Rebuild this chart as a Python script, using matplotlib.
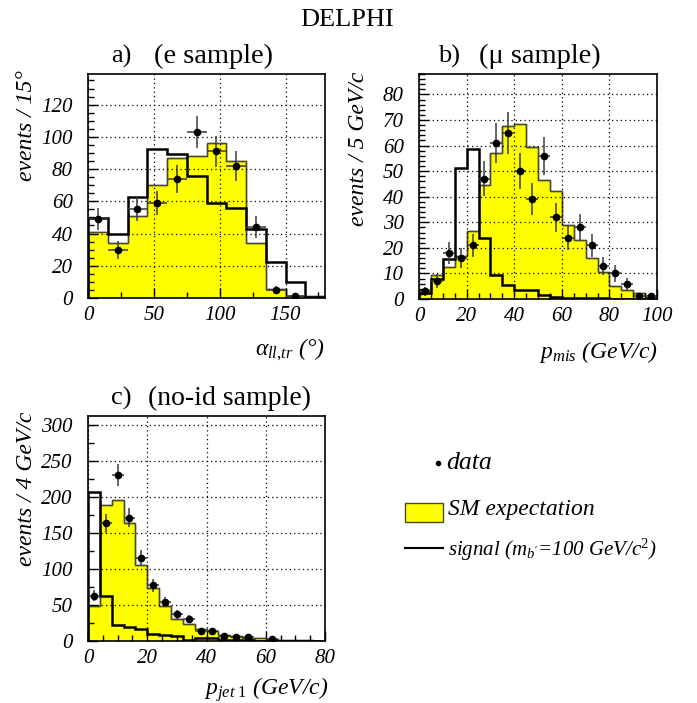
"""DELPHI b' search: e / mu / no-id sample distributions vs SM expectation."""
import numpy as np
import matplotlib
matplotlib.use("Agg")
import matplotlib.pyplot as plt
from matplotlib.ticker import MultipleLocator
from matplotlib.patches import Rectangle

plt.rcParams.update({
    "font.family": "Liberation Serif",
    "mathtext.fontset": "custom",
    "mathtext.rm": "Liberation Serif",
    "mathtext.it": "Liberation Serif:italic",
    "mathtext.bf": "Liberation Serif:bold",
})

W, H = 697, 703
YELLOW = "#ffff00"
SM_EDGE = "#4a4a2a"
nan = np.nan

# a) e sample, alpha_ll,tr in 15 deg bins
a_edges = np.arange(0, 181, 15)
a_sm = [41, 34, 51, 70, 87, 88, 96, 85, 34, 5.6, 1.4, 1.0]
a_sig = [49.5, 39.6, 62.5, 92.6, 89.3, 75.9, 59.2, 56.1, 42.9, 22.5, 9.7, 0.6]
a_data = [49, 30, 55, 59, 74, 103, 91, 82, 44, 5, 1, nan]
a_err = [7.0, 5.5, 7.4, 7.7, 8.6, 10.1, 9.5, 9.1, 6.6, 2.2, 1.0, nan]

# b) mu sample, p_mis in 5 GeV/c bins
b_edges = np.arange(0, 101, 5)
b_sm = [3.4, 9.2, 12.6, 16.9, 26.6, 44.5, 57.1, 67.5, 68.6, 59.6,
        46.6, 42.1, 29.1, 22.9, 16.2, 10.5, 4.9, 3.6, 2.2, 0.8]
b_sig = [2.3, 7.8, 15.8, 51.4, 58.6, 23.8, 9.4, 5.6, 3.5, 3.4,
         1.6, 0.6, 0.3, 0.3, 0.2, 0.2, 0.1, 0.1, 0.1, 0.1]
b_data = [3, 7, 18, 16, 21, 47, 61, 65, 50, 39, 56, 32, 24, 28, 21, 13, 10, 6, 1, 1]
b_err = [1.7, 2.6, 4.2, 4.0, 4.6, 6.9, 7.8, 8.1, 7.1, 6.2,
         7.5, 5.7, 4.9, 5.3, 4.6, 3.6, 3.2, 2.4, 1.0, 1.0]

# c) no-id sample, p_jet1 in 4 GeV/c bins
c_edges = np.arange(0, 81, 4)
c_sm = [48.6, 188, 195, 164, 106, 73, 48, 30, 23, 16.7,
        13.4, 8.8, 6.5, 4.2, 3.7, 2.3, 1.4, 0.9, 0.9, 0.5]
c_sig = [207, 63, 22, 19.4, 16.7, 9.3, 8.8, 6.5, 0.9, 3.7,
         3.7, 1.0, 1.0, 0.8, 0.6, 0.5, 0.4, 0.3, 0.3, 0.3]
c_data = [63, 163, 230, 171, 115, 77, 54, 37, 30, 14, 14, 7, 6, 6, nan, 3,
          nan, nan, nan, nan]
c_err = [7.9, 12.8, 15.2, 13.1, 10.7, 8.8, 7.3, 6.1, 5.5, 3.7, 3.7, 2.6, 2.4, 2.4, nan, 1.7,
         nan, nan, nan, nan]


def px_box(x0, y0, x1, y1):
    return [x0 / W, 1 - y1 / H, (x1 - x0) / W, (y1 - y0) / H]


def panel(ax, edges, sm, sig, data, err, ymax, xmaj, xmin, ymaj, ymin):
    edges = np.asarray(edges, dtype=float)
    ax.stairs(sm, edges, fill=True, facecolor=YELLOW, edgecolor=SM_EDGE,
              linewidth=1.0, baseline=0, zorder=2)
    ax.stairs(sm, edges, fill=False, color=SM_EDGE, linewidth=1.0, baseline=0, zorder=2)
    ax.stairs(sig, edges, fill=False, color="black", linewidth=1.8, baseline=0, zorder=3)
    centers = 0.5 * (edges[:-1] + edges[1:])
    half = 0.5 * np.diff(edges)
    ax.errorbar(centers, data, yerr=err, xerr=half, fmt="o", ms=4.5, color="black",
                ecolor="#3a3a3a", elinewidth=1.1, capsize=0, zorder=4)
    ax.set_xlim(edges[0], edges[-1])
    ax.set_ylim(0, ymax)
    ax.xaxis.set_major_locator(MultipleLocator(xmaj))
    ax.xaxis.set_minor_locator(MultipleLocator(xmin))
    ax.yaxis.set_major_locator(MultipleLocator(ymaj))
    ax.yaxis.set_minor_locator(MultipleLocator(ymin))
    ax.tick_params(which="both", direction="in", top=False, right=False, labelsize=15,
                   width=1.0)
    ax.tick_params(which="major", length=7)
    ax.tick_params(which="minor", length=4)
    ax.tick_params(axis="x", which="major", pad=6)
    ax.tick_params(axis="y", which="major", pad=11)
    for lab in ax.get_xticklabels() + ax.get_yticklabels():
        lab.set_fontstyle("italic")
    ax.grid(True, which="major", color="black", linestyle=(0, (1, 2.5)), linewidth=0.9)
    ax.set_axisbelow(False)
    for sp in ax.spines.values():
        sp.set_linewidth(1.2)
        sp.set_zorder(5)


fig = plt.figure(figsize=(W / 100, H / 100), dpi=100)

ax_a = fig.add_axes(px_box(88, 74, 325, 298))
panel(ax_a, a_edges, a_sm, a_sig, a_data, a_err, 139, 50, 25, 20, 5)

ax_b = fig.add_axes(px_box(419, 74, 657, 299))
panel(ax_b, b_edges, b_sm, b_sig, b_data, b_err, 88, 20, 5, 10, 2)

ax_c = fig.add_axes(px_box(88, 416, 325, 641))
panel(ax_c, c_edges, c_sm, c_sig, c_data, c_err, 312, 20, 5, 50, 25)

# overlay in pixel coordinates for titles, labels and the legend
ov = fig.add_axes([0, 0, 1, 1], facecolor="none")
ov.set_xlim(0, W)
ov.set_ylim(H, 0)
ov.axis("off")

ov.text(347, 20, "DELPHI", ha="center", va="center", fontsize=19)

ov.text(121, 56, "a)", ha="center", va="center", fontsize=19)
ov.text(213, 56, "(e sample)", ha="center", va="center", fontsize=20.5)
ov.text(449, 56, "b)", ha="center", va="center", fontsize=19)
ov.text(540, 56, "(\u03bc sample)", ha="center", va="center", fontsize=20.5)
ov.text(121, 398, "c)", ha="center", va="center", fontsize=19)
ov.text(230, 398, "(no-id sample)", ha="center", va="center", fontsize=20)

ylab = dict(rotation=90, ha="center", va="top", fontsize=17, fontstyle="italic")
ov.text(27, 70, "events / 15\u00b0", **ylab)
ov.text(358, 72, "events / 5 GeV/c", **ylab)
ov.text(27, 412, "events / 4 GeV/c", **ylab)

xlab = dict(ha="right", va="center", fontsize=17, fontstyle="italic")
ov.text(325, 350, "$\\alpha_{ll{,}tr}$ (\u00b0)", **xlab)
ov.text(658, 352, r"$p_{mis}$ (GeV/c)", **xlab)
ov.text(328, 690, r"$p_{jet\ 1}$ (GeV/c)", **xlab)

# legend
ov.plot([438], [463], "o", color="black", ms=3)
ov.text(446, 463, "data", ha="left", va="center", fontsize=18.5, fontstyle="italic")
ov.add_patch(Rectangle((405, 503), 38, 19, facecolor=YELLOW, edgecolor=SM_EDGE, linewidth=1.0))
ov.text(448, 510, "SM expectation", ha="left", va="center", fontsize=17, fontstyle="italic")
ov.plot([405, 443], [548, 548], color="black", linewidth=1.5)
ov.text(448, 550, r"signal ($m_{b'}$=100 GeV/c$^{2}$)", ha="left", va="center",
        fontsize=15, fontstyle="italic")

fig.savefig("out.png", dpi=100)
